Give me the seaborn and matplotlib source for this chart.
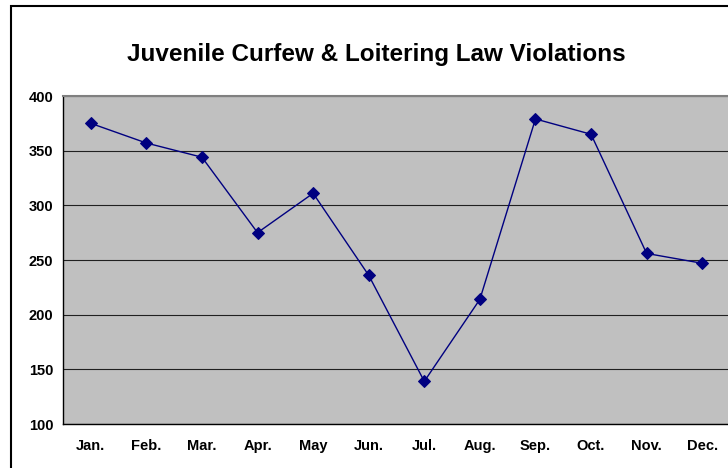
import matplotlib
matplotlib.use('Agg')
import matplotlib.pyplot as plt
import seaborn as sns
import pandas as pd
from matplotlib.patches import Rectangle

# data
months = ['Jan.', 'Feb.', 'Mar.', 'Apr.', 'May', 'Jun.',
          'Jul.', 'Aug.', 'Sep.', 'Oct.', 'Nov.', 'Dec.']
violations = [375, 357, 344, 275, 311, 236, 139, 214, 379, 365, 256, 247]

sns.set_theme(style='white')
plt.rcParams['font.family'] = ['Liberation Sans', 'DejaVu Sans']
plt.rcParams['text.color'] = 'black'
plt.rcParams['xtick.color'] = 'black'
plt.rcParams['ytick.color'] = 'black'

df = pd.DataFrame({'pos': range(len(months)), 'month': months, 'count': violations})

fig = plt.figure(figsize=(7.28, 4.68), dpi=100)
ax = fig.add_axes([63 / 728, 44 / 468, 667 / 728, 328 / 468])
ax.set_facecolor('#C0C0C0')

sns.lineplot(data=df, x='pos', y='count', ax=ax, color='#000080', lw=1,
             marker='D', markersize=6, markeredgecolor='#000080', sort=False)

ax.set_xlim(-0.5, 11.5)
ax.set_ylim(100, 400)
ax.set_yticks(range(100, 401, 50))
ax.set_xticks(range(len(months)))
ax.set_xticklabels(months)
ax.set_xticks([i + 0.5 for i in range(-1, 12)], minor=True)
ax.tick_params(axis='x', which='major', length=0, pad=11)
ax.tick_params(axis='x', which='minor', length=4, direction='out', color='black', width=1)
ax.tick_params(axis='y', length=4, direction='out', color='black', width=1, pad=3)
for lab in ax.get_xticklabels() + ax.get_yticklabels():
    lab.set_fontweight('bold')
    lab.set_fontsize(10.5)
    lab.set_color('black')
ax.set_xlabel('')
ax.set_ylabel('')

ax.grid(axis='y', color='#202020', lw=0.8)
ax.grid(axis='x', visible=False)
ax.set_axisbelow(True)
for side in ['left', 'bottom']:
    ax.spines[side].set_color('black')
    ax.spines[side].set_linewidth(1)
ax.spines['top'].set_color('#808080')
ax.spines['top'].set_linewidth(1.5)
ax.spines['right'].set_visible(False)

fig.text(376 / 728, 1 - 55 / 468, 'Juvenile Curfew & Loitering Law Violations',
         ha='center', va='center', fontsize=17.5, fontweight='bold', color='black')

# outer chart border
fig.patches.append(Rectangle((11 / 728, -0.1), 1.2, 1 - 6 / 468 + 0.1,
                             transform=fig.transFigure, fill=False,
                             edgecolor='black', lw=1.5))

fig.savefig('out.png', dpi=100)
